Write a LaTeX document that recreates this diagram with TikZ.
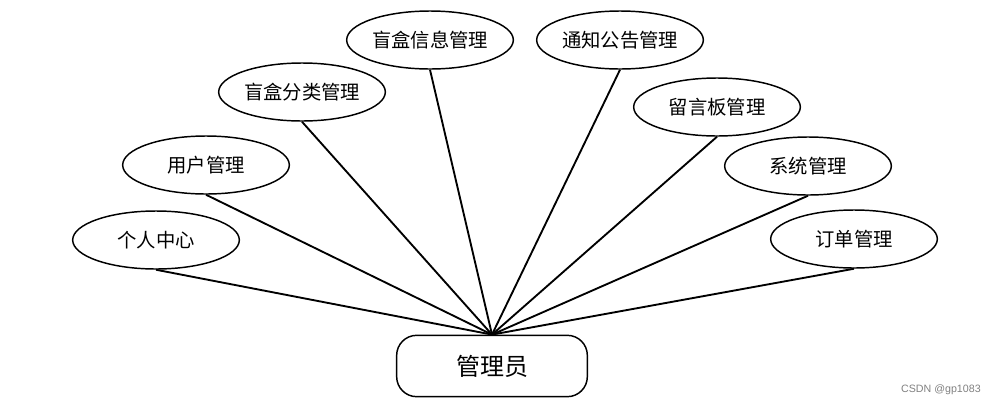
\documentclass[tikz,border=0pt]{standalone}
\usepackage{fontspec}
\usetikzlibrary{shapes.geometric}
\newfontfamily\cjk{Noto Sans CJK SC}
\newfontfamily\wmfont{Liberation Sans}
\begin{document}
\begin{tikzpicture}[x=0.75pt,y=-0.75pt,
  ent/.style={ellipse,draw=black,line width=1.1pt,fill=white,minimum width=125pt,minimum height=43.5pt,inner sep=0pt,font=\cjk\fontsize{14.5}{17}\selectfont},
  hub/.style={rectangle,rounded corners=15pt,draw=black,line width=1.1pt,fill=white,minimum width=143pt,minimum height=46pt,inner sep=0pt,font=\cjk\fontsize{18}{21}\selectfont},
  link/.style={draw=black,line width=1.4pt}]
\useasboundingbox (0,0) rectangle (997,408);
\node[hub] (m) at (492,366) {管理员};
\node[ent] (a) at (156,240) {个人中心};
\node[ent] (b) at (206,165) {用户管理};
\node[ent] (c) at (302,92) {盲盒分类管理};
\node[ent] (d) at (430,40) {盲盒信息管理};
\node[ent] (e) at (620,40) {通知公告管理};
\node[ent] (f) at (717,107) {留言板管理};
\node[ent] (g) at (808,166) {系统管理};
\node[ent] (h) at (854,239) {订单管理};
\foreach \n in {a,b,c,d,e,f,g,h}{
  \draw[link] (\n.south) -- (m.north);
}
\node[text=gray,font=\wmfont\fontsize{8}{10}\selectfont,anchor=east,inner sep=0pt] (wm) at (981,390) {CSDN @gp1083};
\end{tikzpicture}
\end{document}
